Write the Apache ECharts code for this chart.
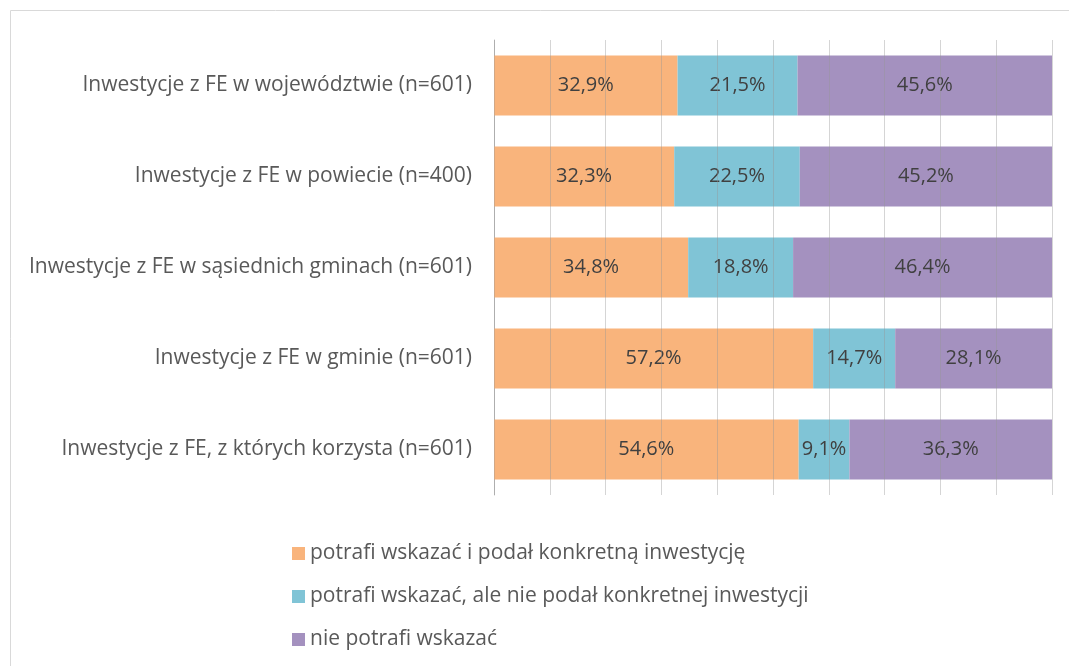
<!DOCTYPE html>
<html>
<head>
<meta charset="utf-8">
<script src="https://cdn.jsdelivr.net/npm/echarts@6/dist/echarts.min.js"></script>
<style>
  html, body { margin: 0; padding: 0; background: #fff; }
  #chart { width: 1069px; height: 666px; }
</style>
</head>
<body>
<div id="chart"></div>
<script>
const categories = [
  'Inwestycje z FE w województwie (n=601)',
  'Inwestycje z FE w powiecie (n=400)',
  'Inwestycje z FE w sąsiednich gminach (n=601)',
  'Inwestycje z FE w gminie (n=601)',
  'Inwestycje z FE, z których korzysta (n=601)'
]
const seriesNames = [
  'potrafi wskazać i podał konkretną inwestycję',
  'potrafi wskazać, ale nie podał konkretnej inwestycji',
  'nie potrafi wskazać'
]
const podal = [32.9, 32.3, 34.8, 57.2, 54.6]
const niePodal = [21.5, 22.5, 18.8, 14.7, 9.1]
const niePotrafi = [45.6, 45.2, 46.4, 28.1, 36.3]
const colors = ['#F9B47C', '#80C4D6', '#A491BF']

const font = '"Open Sans", sans-serif'

function makeSeries(name, data, color) {
  return {
    name: name,
    type: 'bar',
    stack: 'total',
    data: data,
    barCategoryGap: '34%',
    itemStyle: { color: color },
    label: {
      show: true,
      position: 'inside',
      color: '#404040',
      fontSize: 20,
      fontFamily: font,
      formatter: p => p.value.toFixed(1).replace('.', ',') + '%'
    }
  }
}

let chart = echarts.init(document.getElementById('chart'))
let option = {
  animation: false,
  graphic: [{
    type: 'rect',
    shape: { x: 10.5, y: 10.5, width: 1100, height: 700 },
    style: { fill: 'none', stroke: '#d9d9d9', lineWidth: 1 },
    silent: true
  }],
  grid: {
    left: 494,
    right: 17,
    top: 40,
    bottom: 171
  },
  legend: {
    orient: 'vertical',
    left: 287,
    top: 538,
    itemGap: 22,
    itemWidth: 13,
    itemHeight: 13,
    icon: 'rect',
    textStyle: { color: '#595959', fontSize: 21, lineHeight: 21, fontFamily: font },
    data: seriesNames
  },
  xAxis: {
    type: 'value',
    min: 0,
    max: 100,
    interval: 10,
    z: 10,
    axisLine: { show: false },
    axisTick: { show: false },
    axisLabel: { show: false },
    splitLine: { show: true, lineStyle: { color: 'rgba(150,150,150,0.4)', width: 1 } }
  },
  yAxis: {
    type: 'category',
    inverse: true,
    data: categories,
    axisLine: { show: true, lineStyle: { color: '#bfbfbf' } },
    axisTick: { show: false },
    axisLabel: {
      color: '#595959',
      fontSize: 21,
      fontFamily: font,
      margin: 22
    }
  },
  series: [
    makeSeries(seriesNames[0], podal, colors[0]),
    makeSeries(seriesNames[1], niePodal, colors[1]),
    makeSeries(seriesNames[2], niePotrafi, colors[2])
  ]
}
chart.setOption(option)
</script>
</body>
</html>
